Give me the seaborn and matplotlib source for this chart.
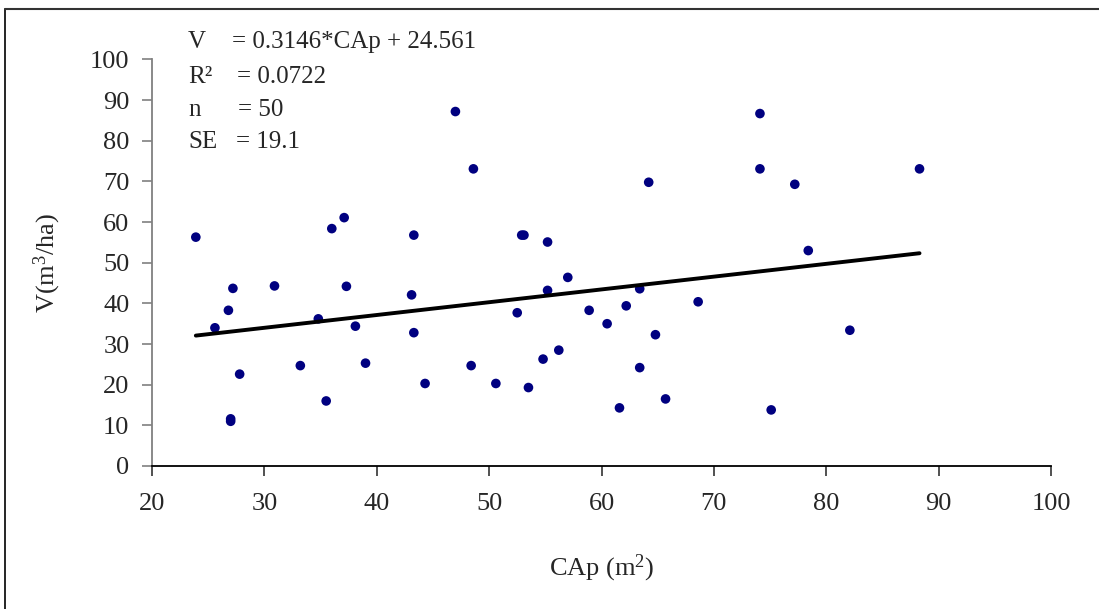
import matplotlib
matplotlib.use("Agg")
import matplotlib.pyplot as plt
import seaborn as sns
import numpy as np
import pandas as pd
from matplotlib.lines import Line2D

# ---------------- data ----------------
cap = [23.9, 25.6, 26.8, 27.2, 27.8, 27.0, 27.0, 30.9, 33.2, 34.8,
       35.5, 36.0, 37.1, 37.3, 38.1, 39.0, 43.3, 43.1, 43.3, 44.3,
       48.4, 50.6, 47.0, 48.6, 74.1, 74.1, 64.2, 52.9, 53.1, 55.2,
       57.0, 55.2, 63.4, 52.5, 58.9, 62.2, 68.6, 60.5, 64.8, 56.2,
       54.8, 63.4, 53.5, 61.6, 65.7, 75.1, 88.3, 77.2, 78.4, 82.1]
vol = [56.3, 34.0, 38.3, 43.7, 22.6, 11.6, 11.0, 44.3, 24.7, 36.2,
       16.0, 58.4, 61.1, 44.2, 34.4, 25.3, 56.8, 42.1, 32.8, 20.3,
       24.7, 20.3, 87.2, 73.1, 86.7, 73.1, 69.8, 56.8, 56.8, 55.1,
       46.4, 43.2, 43.6, 37.7, 38.3, 39.4, 40.4, 35.0, 32.3, 28.5,
       26.3, 24.2, 19.3, 14.3, 16.5, 13.8, 73.1, 69.3, 53.0, 33.4]
slope = 0.3146
intercept = 24.561
eq_labels = ["V", "R\u00b2", "n", "SE"]
eq_values = ["= 0.3146*CAp + 24.561", "= 0.0722", "= 50", "= 19.1"]
x_ticks = [20, 30, 40, 50, 60, 70, 80, 90, 100]
y_ticks = [0, 10, 20, 30, 40, 50, 60, 70, 80, 90, 100]
x_label = r"CAp (m$^2$)"
y_label = r"V(m$^3$/ha)"

# ---------------- style ----------------
sns.set_theme(style="white")
plt.rcParams["font.family"] = ["Liberation Serif", "DejaVu Serif"]
plt.rcParams["mathtext.fontset"] = "custom"
plt.rcParams["mathtext.rm"] = "Liberation Serif"
plt.rcParams["mathtext.it"] = "Liberation Serif:italic"
plt.rcParams["mathtext.bf"] = "Liberation Serif:bold"

W, H = 1099, 609
fig = plt.figure(figsize=(W / 100, H / 100), dpi=100)
fig.patch.set_facecolor("white")

ax_l, ax_r, ax_t, ax_b = 152, 1051, 59.5, 466
ax = fig.add_axes([ax_l / W, 1 - ax_b / H, (ax_r - ax_l) / W, (ax_b - ax_t) / H])
ax.set_facecolor("white")

df = pd.DataFrame({"CAp": cap, "V": vol})
sns.scatterplot(data=df, x="CAp", y="V", color="#000080", s=48,
                edgecolor="none", linewidth=0, ax=ax, zorder=3)

xl = np.array([min(cap), max(cap)])
line_df = pd.DataFrame({"CAp": xl, "V": slope * xl + intercept})
sns.lineplot(data=line_df, x="CAp", y="V", color="black", linewidth=2.8,
             ax=ax, zorder=4)

ax.set_xlim(20, 100)
ax.set_ylim(0, 100)
ax.set_xticks(x_ticks)
ax.set_yticks(y_ticks)
ax.set_xticklabels([str(t) for t in x_ticks])
ax.set_yticklabels([str(t) for t in y_ticks])

for s in ["top", "right"]:
    ax.spines[s].set_visible(False)
ax.spines["left"].set_color("#808080")
ax.spines["left"].set_linewidth(1.3)
ax.spines["bottom"].set_color("black")
ax.spines["bottom"].set_linewidth(1.3)

ax.tick_params(axis="x", direction="out", length=7.2, width=1.2, color="#333333",
               labelsize=19, pad=12, bottom=True)
ax.tick_params(axis="y", direction="out", length=7.2, width=1.2, color="#808080",
               labelsize=19, pad=9, left=True)

ax.set_xlabel(x_label, fontsize=19)
ax.set_ylabel(y_label, fontsize=19)
ax.xaxis.set_label_coords(0.5, -(553 - ax_b) / (ax_b - ax_t))
ax.yaxis.set_label_coords(-(ax_l - 63) / (ax_r - ax_l), 0.5)
ax.grid(False)

# equation block
eq_label_x = 188
eq_value_x = [231.7, 237.3, 238.5, 236.5]
eq_base_y = [48.3, 82.7, 115.5, 148.5]
for lab, val, vx, by in zip(eq_labels, eq_values, eq_value_x, eq_base_y):
    fig.text(eq_label_x / W, 1 - by / H, lab, fontsize=18, va="baseline", ha="left")
    fig.text(vx / W, 1 - by / H, val, fontsize=18, va="baseline", ha="left")

# outer frame (left and top edges visible)
fig.add_artist(Line2D([5 / W, 5 / W], [0, 1 - 8.5 / H], transform=fig.transFigure,
                      color="black", linewidth=1.2))
fig.add_artist(Line2D([5 / W, 1], [1 - 8.5 / H, 1 - 8.5 / H], transform=fig.transFigure,
                      color="#333333", linewidth=1.5))

fig.savefig("out.png", dpi=100, facecolor="white")
